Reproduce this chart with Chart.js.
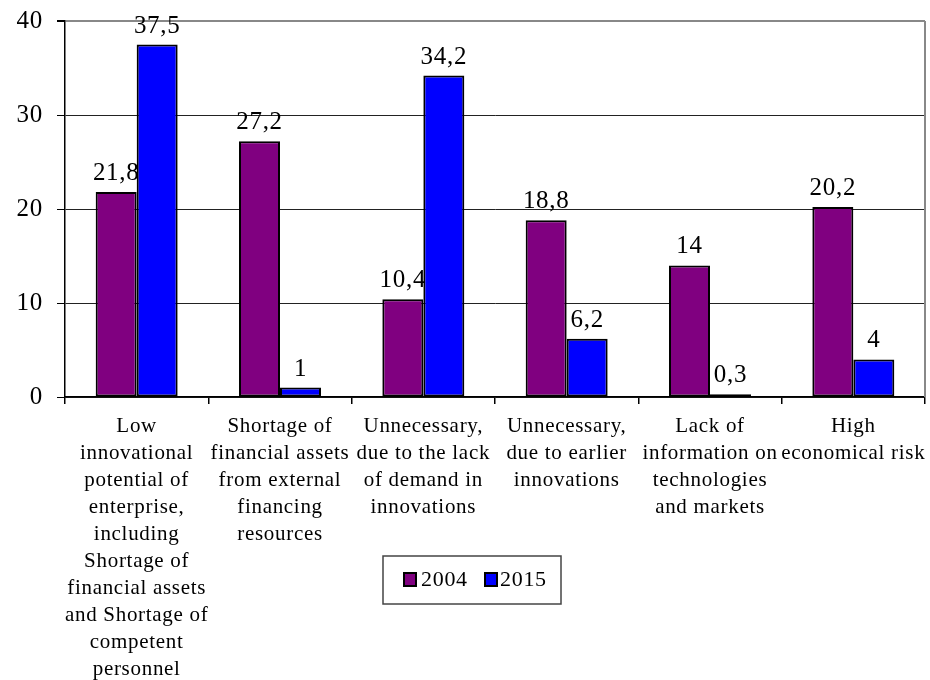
<!DOCTYPE html>
<html>
<head>
<meta charset="utf-8">
<script src="https://cdn.jsdelivr.net/npm/chart.js@4.4.1/dist/chart.umd.min.js"></script>
<style>
  html, body { margin: 0; padding: 0; background: #fff; }
  #wrap { width: 930px; height: 680px; position: relative; }
</style>
</head>
<body>
<div id="wrap"><canvas id="c" width="930" height="680"></canvas></div>
<script>
const categories = [
  ["Low","innovational","potential of","enterprise,","including","Shortage of","financial assets","and Shortage of","competent","personnel"],
  ["Shortage of","financial assets","from external","financing","resources"],
  ["Unnecessary,","due to the lack","of demand in","innovations"],
  ["Unnecessary,","due to earlier","innovations"],
  ["Lack of","information on","technologies","and markets"],
  ["High","economical risk"]
];
const seriesNames = ["2004", "2015"];
const values2004 = [21.8, 27.2, 10.4, 18.8, 14, 20.2];
const values2015 = [37.5, 1, 34.2, 6.2, 0.3, 4];
const yTicks = [0, 10, 20, 30, 40];

const SERIF = '"Liberation Serif", "Times New Roman", serif';
const colors = ['#800080', '#0000FF'];

function fmt(v) { return String(v).replace('.', ','); }

function drawLabels(chart, dsIndex) {
  const ctx = chart.ctx;
  const meta = chart.getDatasetMeta(dsIndex);
  const data = chart.data.datasets[dsIndex].data;
  ctx.save();
  ctx.font = '25px ' + SERIF;
  ctx.fillStyle = '#000';
  ctx.textAlign = 'center';
  ctx.textBaseline = 'alphabetic';
  meta.data.forEach((bar, i) => {
    ctx.fillText(fmt(data[i]), bar.x, bar.y - 12);
  });
  ctx.restore();
}

const spacingPlugin = {
  id: 'spacing',
  beforeDraw(chart) { chart.ctx.letterSpacing = '0.7px'; }
};

const labelPlugin = {
  id: 'valueLabels',
  beforeDatasetDraw(chart, args) {
    if (args.index === 1) {
      drawLabels(chart, 0);
    }
  },
  afterDatasetsDraw(chart) {
    drawLabels(chart, 1);
  }
};

const framePlugin = {
  id: 'frame',
  afterDraw(chart) {
    const ctx = chart.ctx;
    const a = chart.chartArea;
    ctx.save();
    ctx.strokeStyle = '#888';
    ctx.lineWidth = 2;
    ctx.beginPath();
    ctx.moveTo(a.right, a.top);
    ctx.lineTo(a.right, a.bottom);
    ctx.stroke();
    ctx.restore();

    const bx = 383, by = 556, bw = 178, bh = 48;
    ctx.save();
    ctx.fillStyle = '#fff';
    ctx.fillRect(bx, by, bw, bh);
    ctx.strokeStyle = '#444';
    ctx.lineWidth = 1.5;
    ctx.strokeRect(bx, by, bw, bh);
    const items = [
      { x: 404, tx: 421 },
      { x: 485, tx: 500 }
    ];
    ctx.font = '22px ' + SERIF;
    ctx.textBaseline = 'middle';
    ctx.textAlign = 'left';
    items.forEach((it, i) => {
      ctx.fillStyle = colors[i];
      ctx.fillRect(it.x, 573, 12, 13);
      ctx.strokeStyle = '#000';
      ctx.lineWidth = 2;
      ctx.strokeRect(it.x, 573, 12, 13);
      ctx.fillStyle = '#000';
      ctx.fillText(seriesNames[i], it.tx, 580);
    });
    ctx.restore();
  }
};

new Chart(document.getElementById('c'), {
  type: 'bar',
  data: {
    labels: categories,
    datasets: [
      { label: seriesNames[0], data: values2004, backgroundColor: colors[0], borderColor: '#000', borderWidth: 2, borderSkipped: false },
      { label: seriesNames[1], data: values2015, backgroundColor: colors[1], borderColor: '#000', borderWidth: 2, borderSkipped: false }
    ]
  },
  options: {
    responsive: false,
    animation: false,
    devicePixelRatio: 1,
    layout: { padding: { top: 21, right: 5, left: 0, bottom: 0 } },
    datasets: { bar: { barPercentage: 1, categoryPercentage: 0.572 } },
    plugins: {
      legend: { display: false },
      tooltip: { enabled: false },
      title: { display: false }
    },
    scales: {
      x: {
        afterFit(scale) { scale.height = 283; scale.paddingLeft = 0; scale.paddingRight = 0; },
        grid: { offset: true, drawOnChartArea: false, tickLength: 7, color: '#000', lineWidth: 1.5 },
        border: { color: '#000', width: 1.5 },
        ticks: {
          autoSkip: false, maxRotation: 0, minRotation: 0,
          color: '#000', padding: 9,
          font: { family: SERIF, size: 21, lineHeight: '27px' }
        }
      },
      y: {
        min: 0, max: 40,
        afterFit(scale) { scale.width = 65; scale.paddingTop = 0; scale.paddingBottom = 0; },
        afterBuildTicks(scale) { scale.ticks = yTicks.map(v => ({ value: v })); },
        grid: {
          tickLength: 8,
          color: ctx => (ctx.tick && ctx.tick.value === 40) ? '#888' : '#222',
          lineWidth: ctx => (ctx.tick && ctx.tick.value === 40) ? 2 : 1,
          tickColor: '#000'
        },
        border: { color: '#000', width: 1.5 },
        ticks: {
          color: '#000', padding: 14,
          font: { family: SERIF, size: 25 },
          callback: v => fmt(v)
        }
      }
    }
  },
  plugins: [spacingPlugin, labelPlugin, framePlugin]
});
</script>
</body>
</html>
